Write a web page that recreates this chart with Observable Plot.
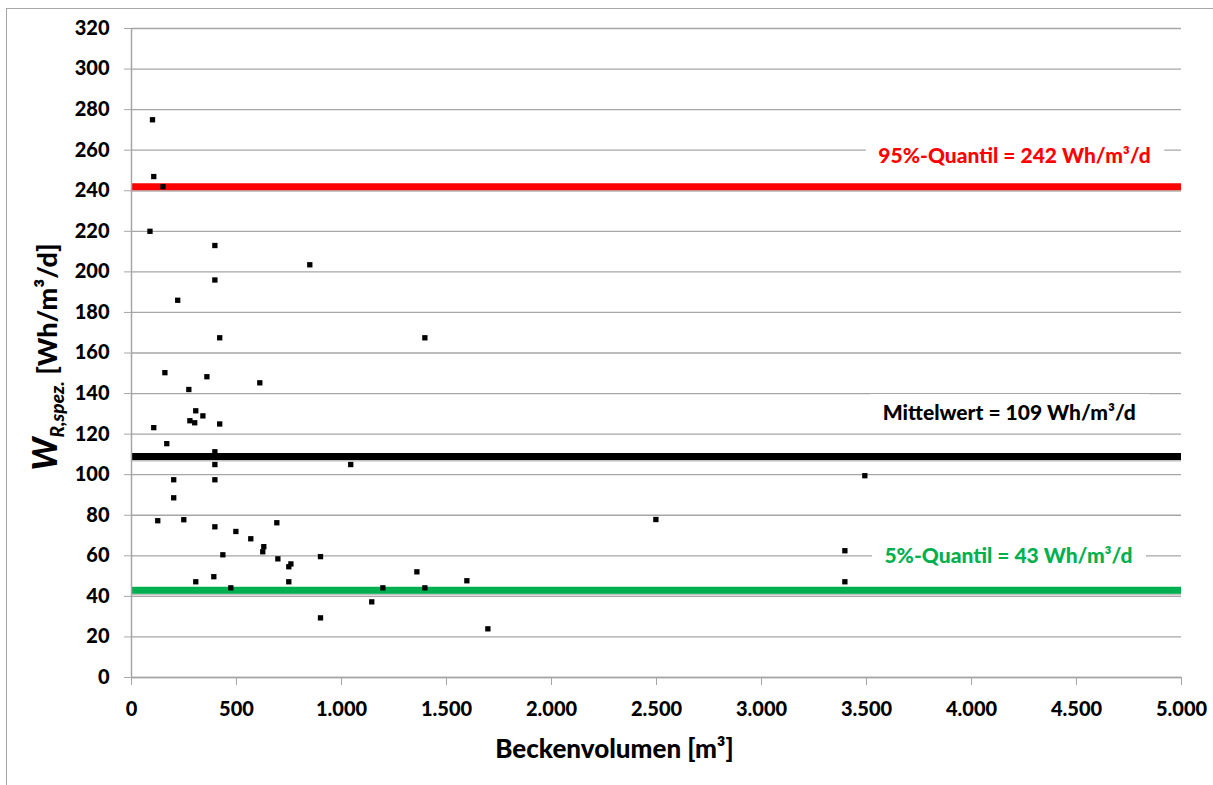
<!DOCTYPE html>
<html><head><meta charset="utf-8">
<script src="https://cdn.jsdelivr.net/npm/d3@7"></script>
<script src="https://cdn.jsdelivr.net/npm/@observablehq/plot@0.6"></script>
<style>
html,body{margin:0;padding:0;background:#fff;}
#wrap{position:relative;width:1213px;height:785px;overflow:hidden;}
#frame{position:absolute;left:6px;top:8px;right:-10px;bottom:-10px;border-left:1.5px solid #a6a6a6;border-top:1.5px solid #a6a6a6;pointer-events:none;}
</style></head><body><div id="wrap"><div id="frame"></div></div>
<script>
// Beckenvolumen [m³]
const volume = [100, 106, 150, 88, 397, 849, 397, 220, 420,
  159, 359, 611, 273, 306, 340, 278, 301, 420, 106, 168, 397, 397, 201, 397, 201,
  125, 249, 397, 692, 497, 568, 630, 625, 435, 697, 900, 759, 749, 306, 392, 749, 473, 900,
  1397, 1044, 1359, 1597, 1197, 1397, 1144, 1697, 2497, 3397, 3397, 3492];
// W_R,spez. [Wh/m³/d]
const energy = [275, 247, 242, 220, 213, 203.5, 196, 186, 167.5,
  150.3, 148.3, 145.3, 142, 131.5, 129, 126.6, 125.6, 125, 123.2, 115.3, 111.3, 105, 97.5, 97.5, 88.6,
  77.3, 77.8, 74.3, 76.3, 72, 68.4, 64.5, 62, 60.5, 58.5, 59.6, 56, 54.6, 47.2, 49.7, 47.2, 44.2, 29.4,
  167.5, 105, 52.1, 47.7, 44.2, 44.2, 37.3, 24, 77.9, 62.5, 47.2, 99.5];
const refValues = [242, 109, 43];
const refLabels = ["95%-Quantil = 242 Wh/m³/d", "Mittelwert = 109 Wh/m³/d", "5%-Quantil = 43 Wh/m³/d"];
const refColors = ["#ff0000", "#000000", "#00b050"];
const labelX = [4205, 4180, 4176];
const labelY = [257, 130.5, 59.8];
const xTicks = d3.range(0, 5001, 500);
const yTicks = d3.range(0, 321, 20);
const xTitle = "Beckenvolumen [m³]";

const font = "Lato, 'Open Sans', 'DejaVu Sans', sans-serif";
const de = d3.formatLocale({decimal: ",", thousands: ".", grouping: [3], currency: ["", " €"]});
const fmt = de.format(",");
const points = volume.map((v, i) => ({v, w: energy[i]}));
const refs = refValues.map((y, i) => ({y, label: refLabels[i], color: refColors[i], lx: labelX[i], ly: labelY[i]}));

const chart = Plot.plot({
  width: 1213, height: 785,
  marginLeft: 131, marginRight: 32, marginTop: 28, marginBottom: 108,
  style: {fontFamily: font, fontSize: "20px", fontWeight: "900", color: "#000", background: "transparent", overflow: "visible"},
  x: {domain: [0, 5000]},
  y: {domain: [0, 320]},
  color: {type: "identity"},
  marks: [
    Plot.gridY(yTicks, {stroke: "#a6a6a6", strokeOpacity: 1, strokeWidth: 1.3}),
    Plot.ruleY(refs, {y: "y", stroke: "#c0c0c0", strokeWidth: 2, dy: 4}),
    Plot.ruleY(refs, {y: "y", stroke: "color", strokeWidth: 7}),
    Plot.axisY(yTicks, {tickSize: 7, tickPadding: 15, stroke: "#a6a6a6", label: null}),
    Plot.axisX(xTicks, {tickSize: 8, tickPadding: 16, stroke: "#a6a6a6", tickFormat: fmt, label: null}),
    Plot.ruleX([0], {stroke: "#a6a6a6", strokeWidth: 1.5}),
    Plot.ruleY([0], {stroke: "#a6a6a6", strokeWidth: 1.5}),
    Plot.dot(points, {x: "v", y: "w", symbol: "square", r: 3, fill: "#000", stroke: null}),
    Plot.text(refs, {x: "lx", y: "ly", text: "label", fill: "color", fontSize: 21, fontWeight: "900", className: "reflabel"}),
    Plot.text([xTitle], {frameAnchor: "bottom", dx: -42, dy: 80, fontSize: 26, fontWeight: "900", fill: "#000"})
  ]
});
document.getElementById("wrap").appendChild(chart);

// white boxes behind the reference labels
const svgRect = chart.getBoundingClientRect();
d3.select(chart).selectAll("g.reflabel text").each(function() {
  const b = this.getBoundingClientRect();
  const padX = 13, padY = 7;
  d3.select(this.parentNode).insert("rect", () => this)
    .attr("x", b.left - svgRect.left - padX)
    .attr("y", b.top - svgRect.top - padY + 2)
    .attr("width", b.width + 2 * padX)
    .attr("height", b.height + 2 * padY - 4)
    .attr("fill", "#fff");
});

// y-axis title with subscript
const t = d3.select(chart).append("text")
  .attr("transform", "translate(57,357) rotate(-90)")
  .attr("text-anchor", "middle")
  .style("font-family", font).style("font-weight", "900").attr("fill", "#000");
t.append("tspan").attr("font-size", 34).attr("font-style", "italic").text("W");
t.append("tspan").attr("font-size", 19).attr("font-style", "italic").attr("dy", 7).text("R,spez.");
t.append("tspan").attr("font-size", 27).attr("dy", -7).text(" [Wh/m³/d]");
</script>
</body></html>
